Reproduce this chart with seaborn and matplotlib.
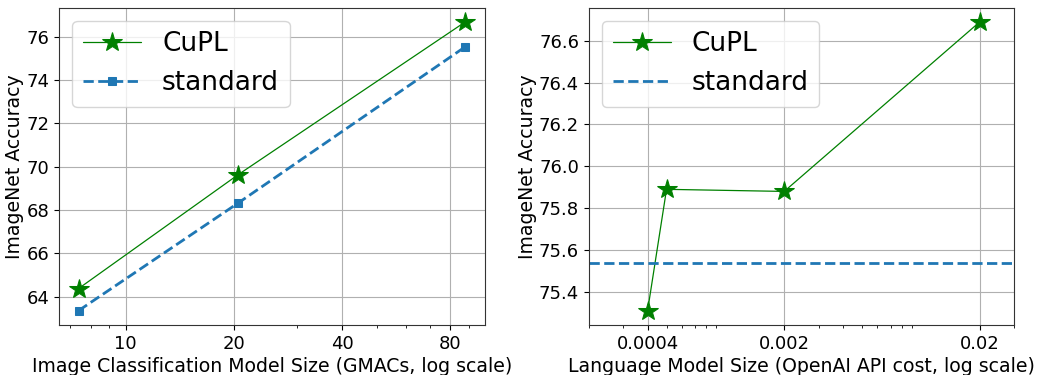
import matplotlib
matplotlib.use("Agg")
import matplotlib.pyplot as plt
import seaborn as sns
import pandas as pd
from matplotlib.ticker import FixedLocator, FixedFormatter, NullFormatter

# Left panel data
img_gmacs = [7.4, 20.5, 87.9]
img_cupl = [64.37, 69.62, 76.69]
img_standard = [63.35, 68.31, 75.54]
img_ticks = [10, 20, 40, 80]
img_ticklabels = ["10", "20", "40", "80"]

# Right panel data
lm_cost = [0.0004, 0.0005, 0.002, 0.02]
lm_cupl = [75.31, 75.89, 75.88, 76.69]
lm_standard = 75.54
lm_ticks = [0.0004, 0.002, 0.02]
lm_ticklabels = ["0.0004", "0.002", "0.02"]
lm_xlim = (0.0002, 0.03)

sns.set_style("white")
plt.rcParams["font.family"] = ["DejaVu Sans"]
plt.rcParams["xtick.bottom"] = True
plt.rcParams["ytick.left"] = True
for k in ["text.color", "axes.labelcolor", "xtick.color", "ytick.color"]:
    plt.rcParams[k] = "black"

fig, (ax1, ax2) = plt.subplots(1, 2, figsize=(10.38, 3.75), dpi=100)
fig.subplots_adjust(left=0.057, right=0.977, top=0.98, bottom=0.133, wspace=0.245)

df1 = pd.DataFrame({"x": img_gmacs, "cupl": img_cupl, "std": img_standard})
sns.lineplot(data=df1, x="x", y="cupl", ax=ax1, color="green", lw=0.9,
             marker="*", markersize=15, markeredgecolor="green", label="CuPL")
sns.lineplot(data=df1, x="x", y="std", ax=ax1, color="#1f77b4", lw=2,
             linestyle="--", marker="s", markersize=6, markeredgecolor="#1f77b4",
             label="standard")
ax1.set_xscale("log")
ax1.xaxis.set_major_locator(FixedLocator(img_ticks))
ax1.xaxis.set_major_formatter(FixedFormatter(img_ticklabels))
ax1.xaxis.set_minor_formatter(NullFormatter())
ax1.set_xlabel("Image Classification Model Size (GMACs, log scale)", fontsize=13.6, labelpad=3)
ax1.set_ylabel("ImageNet Accuracy", fontsize=13.6, labelpad=1.5)

df2 = pd.DataFrame({"x": lm_cost, "cupl": lm_cupl})
sns.lineplot(data=df2, x="x", y="cupl", ax=ax2, color="green", lw=0.9,
             marker="*", markersize=15, markeredgecolor="green", label="CuPL")
ax2.axhline(lm_standard, color="#1f77b4", lw=2, linestyle="--", label="standard")
ax2.set_xscale("log")
ax2.set_xlim(*lm_xlim)
ax2.xaxis.set_major_locator(FixedLocator(lm_ticks))
ax2.xaxis.set_major_formatter(FixedFormatter(lm_ticklabels))
ax2.xaxis.set_minor_formatter(NullFormatter())
ax2.set_xlabel("Language Model Size (OpenAI API cost, log scale)", fontsize=13.6, labelpad=3)
ax2.set_ylabel("ImageNet Accuracy", fontsize=13.6, labelpad=1.5)

for ax in (ax1, ax2):
    ax.grid(True, which="major", color="#b0b0b0", lw=0.8)
    ax.tick_params(axis="both", which="major", labelsize=13, length=3.5, direction="out")
    ax.tick_params(axis="x", which="minor", length=2, direction="out")
    for s in ax.spines.values():
        s.set_color("#333333")
        s.set_linewidth(0.8)
    ax.legend(loc="upper left", fontsize=19, frameon=True, borderaxespad=0.5,
              handlelength=2.2)

fig.savefig("out.png", dpi=100)
